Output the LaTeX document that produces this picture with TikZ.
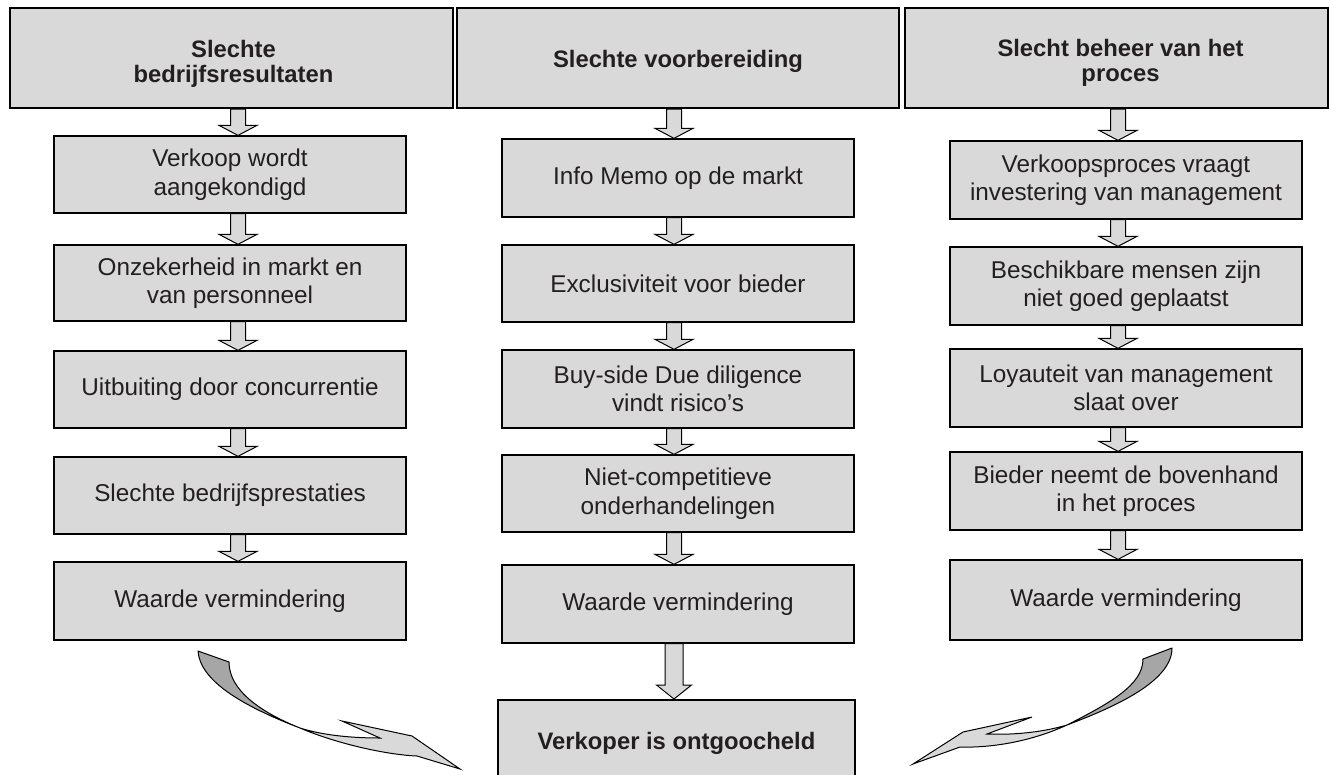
\documentclass[tikz,border=0pt]{standalone}
\usepackage{fontspec}
\setmainfont{Liberation Sans}
\usetikzlibrary{calc}
\definecolor{boxgray}{HTML}{D9D9D9}
\definecolor{darkgray2}{HTML}{A6A6A6}
\definecolor{txt}{HTML}{231F20}
\newcommand\bodyfont{\fontsize{24.3}{28.5}\selectfont}
\newcommand\hdrfont{\fontsize{23.8}{25}\selectfont\bfseries}
\tikzset{
  hdr/.style={draw=black, line width=2pt, fill=boxgray, inner sep=0pt},
  hdrtxt/.style={font=\hdrfont, text=txt, align=center, inner sep=0pt},
  bx/.style={draw=black, line width=1.3pt, fill=boxgray, font=\bodyfont, text=txt, align=center, inner sep=0pt},
  barr/.style={draw=black, line width=1pt, fill=boxgray},
  curldark/.style={draw=black, line width=1pt, fill=darkgray2, line join=round},
  curllight/.style={draw=black, line width=1pt, fill=boxgray, line join=miter}
}
% name, x1, y1, x2, y2, style, text
\newcommand\mkbox[7]{\node[#6, minimum width={(#4-#2)*1pt}, minimum height={(#5-#3)*1pt}] (#1) at ({(#2+#4)/2},{(#3+#5)/2}) {#7};}
% from, to, x, shaft half width, head half width, head height
\newcommand\flowg[6]{\draw[barr] let \p1=(#1.south), \p2=(#2.north) in
  ({(#3-#4)*1pt},\y1) -- ({(#3+#4)*1pt},\y1) -- ({(#3+#4)*1pt},{\y2+#6pt}) -- ({(#3+#5)*1pt},{\y2+#6pt})
  -- ({#3*1pt},\y2) -- ({(#3-#5)*1pt},{\y2+#6pt}) -- ({(#3-#4)*1pt},{\y2+#6pt}) -- cycle;}
\newcommand\flow[3]{\flowg{#1}{#2}{#3}{7.5}{19}{10}}
\begin{document}
\begin{tikzpicture}[x=1pt,y=-1pt]
\clip (0,0) rectangle (1329,774);
\fill[white] (0,0) rectangle (1329,774);
% headers
\mkbox{h1}{10}{8}{453}{108}{hdr}{}
\mkbox{h2}{457}{8}{899}{108}{hdr}{}
\mkbox{h3}{905}{8}{1328}{108}{hdr}{}
\node[hdrtxt] (h1t) at ($(h1.center)+(2,6)$) {Slechte\\bedrijfsresultaten};
\node[hdrtxt] (h2t) at ($(h2.center)+(0,3)$) {Slechte voorbereiding};
\node[hdrtxt] (h3t) at ($(h3.center)+(4,5)$) {Slecht beheer van het\\proces};
% left column
\mkbox{l1}{54}{136}{406}{213}{bx}{Verkoop wordt\\aangekondigd}
\mkbox{l2}{54}{245}{406}{321}{bx}{Onzekerheid in markt en\\van personneel}
\mkbox{l3}{54}{351}{406}{428}{bx}{Uitbuiting door concurrentie}
\mkbox{l4}{54}{457}{406}{534}{bx}{Slechte bedrijfsprestaties}
\mkbox{l5}{54}{562}{406}{640}{bx}{Waarde vermindering}
% middle column
\mkbox{m1}{502}{139}{854}{217}{bx}{Info Memo op de markt}
\mkbox{m2}{502}{245}{854}{322}{bx}{Exclusiviteit voor bieder}
\mkbox{m3}{502}{350}{854}{428}{bx}{Buy-side Due diligence\\vindt risico’s}
\mkbox{m4}{502}{455}{854}{532}{bx}{Niet-competitieve\\onderhandelingen}
\mkbox{m5}{502}{565}{854}{643}{bx}{Waarde vermindering}
\node[hdr, minimum width=357pt, minimum height=86pt, font=\hdrfont, text=txt] (fin) at (676.5,743) {Verkoper is ontgoocheld};
% right column
\mkbox{r1}{950}{141}{1302}{219}{bx}{Verkoopsproces vraagt\\investering van management}
\mkbox{r2}{950}{247}{1302}{325}{bx}{Beschikbare mensen zijn\\niet goed geplaatst}
\mkbox{r3}{950}{349}{1302}{427}{bx}{Loyauteit van management\\slaat over}
\mkbox{r4}{950}{452}{1302}{530}{bx}{Bieder neemt de bovenhand\\in het proces}
\mkbox{r5}{950}{560}{1302}{640}{bx}{Waarde vermindering}
% straight block arrows
\flow{h1}{l1}{238}\flow{l1}{l2}{238}\flow{l2}{l3}{238}\flow{l3}{l4}{238}\flow{l4}{l5}{238}
\flow{h2}{m1}{674}\flow{m1}{m2}{674}\flow{m2}{m3}{674}\flow{m3}{m4}{674}\flow{m4}{m5}{674}
\flowg{m5}{fin}{674}{9}{17.5}{14}
\flow{h3}{r1}{1118}\flow{r1}{r2}{1118}\flow{r2}{r3}{1118}\flow{r3}{r4}{1118}\flow{r4}{r5}{1118}
% left curved arrow
\draw[curllight] (300,728) .. controls (340,745) and (390,755) .. (417,756) -- (460,769) -- (412,736) -- (342,721) -- (380,738)
  .. controls (350,738) and (322,735) .. (300,728) -- cycle;
\draw[curldark] (198,651) -- (229,662) .. controls (229,690) and (260,712) .. (300,728)
  .. controls (240,705) and (200,680) .. (198,651) -- cycle;
% right curved arrow
\draw[curllight] (1067,725) .. controls (1030,742) and (990,748) .. (960,747) -- (913,764) -- (963,732) -- (1032,717) -- (987,734)
  .. controls (1010,735) and (1040,733) .. (1067,725) -- cycle;
\draw[curldark] (1172,648) -- (1143,659) .. controls (1143,685) and (1110,703) .. (1067,725)
  .. controls (1120,705) and (1172,680) .. (1172,648) -- cycle;
\end{tikzpicture}
\end{document}
